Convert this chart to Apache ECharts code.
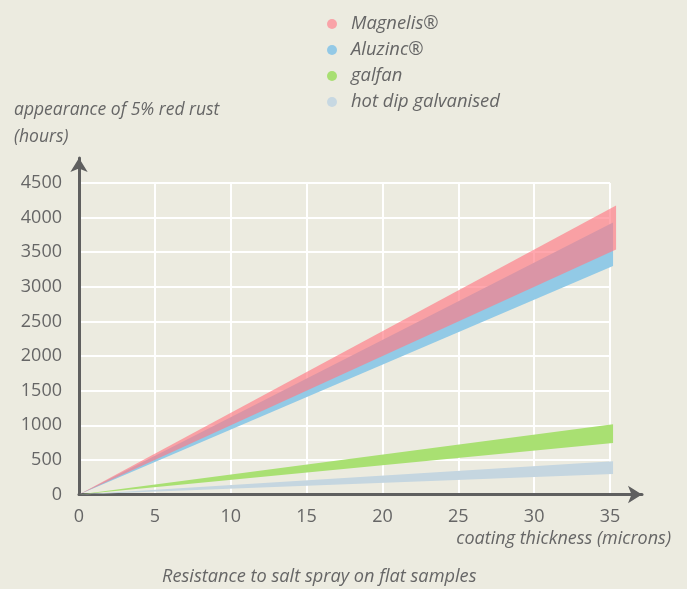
<!DOCTYPE html>
<html>
<head>
<meta charset="utf-8">
<script src="https://cdn.jsdelivr.net/npm/echarts@6/dist/echarts.min.js"></script>
<style>
  html, body { margin: 0; padding: 0; background: #ecebe0; }
  #chart { width: 687px; height: 589px; }
</style>
</head>
<body>
<div id="chart"></div>
<script>
const xTicks = [0, 5, 10, 15, 20, 25, 30, 35];
const yTicks = [0, 500, 1000, 1500, 2000, 2500, 3000, 3500, 4000, 4500];

// each band: thickness points, lower and upper hours
const magnelisX = [0, 35.4];
const magnelisLow = [0, 3540];
const magnelisHigh = [0, 4175];

const aluzincX = [0, 35.2];
const aluzincLow = [0, 3300];
const aluzincHigh = [0, 3930];

const galfanX = [0, 35.2];
const galfanLow = [0, 745];
const galfanHigh = [0, 1015];

const hotDipX = [0, 35.2];
const hotDipLow = [0, 295];
const hotDipHigh = [0, 480];

const font = "'Open Sans', sans-serif";
const textColor = "#666";
const axisColor = "#5f5f5f";

// one row per segment: x0, low0, high0, x1, low1, high1
const bandRows = (xs, lows, highs) => {
  const rows = [];
  for (let i = 0; i < xs.length - 1; i++) {
    rows.push([xs[i], lows[i], highs[i], xs[i + 1], lows[i + 1], highs[i + 1]]);
  }
  return rows;
};

const bandSeries = (name, legendColor, fill, xs, lows, highs) => ({
  name: name,
  type: "custom",
  xAxisIndex: 0,
  yAxisIndex: 0,
  clip: false,
  renderItem: (params, api) => {
    const a = api.coord([api.value(0), api.value(1)]);
    const b = api.coord([api.value(3), api.value(4)]);
    const c = api.coord([api.value(3), api.value(5)]);
    const d = api.coord([api.value(0), api.value(2)]);
    return {
      type: "polygon",
      shape: { points: [a, b, c, d] },
      style: { fill: fill },
    };
  },
  itemStyle: { color: legendColor },
  encode: { x: [0, 3], y: [1, 2, 4, 5] },
  data: bandRows(xs, lows, highs),
});

const italic = (size) => ({
  fontFamily: font,
  fontStyle: "italic",
  fontWeight: "normal",
  fontSize: size,
  color: textColor,
});

const chart = echarts.init(document.getElementById("chart"));

chart.setOption({
  backgroundColor: "#ecebe0",
  animation: false,
  textStyle: { fontFamily: font },
  title: [
    {
      text: "Resistance to salt spray on flat samples",
      left: 162,
      top: 568,
      padding: 0,
      textStyle: italic(18.2),
    },
    {
      text: "coating thickness (microns)",
      right: 16,
      top: 530,
      padding: 0,
      textStyle: italic(18),
    },
    {
      text: "appearance of 5% red rust\n(hours)",
      left: 14,
      top: 97,
      padding: 0,
      textStyle: Object.assign(italic(17.5), { lineHeight: 27 }),
    },
  ],
  legend: {
    orient: "vertical",
    left: 327,
    top: 15,
    padding: 0,
    itemGap: 8,
    itemWidth: 10,
    itemHeight: 10,
    icon: "circle",
    data: ["Magnelis®", "Aluzinc®", "galfan", "hot dip galvanised"],
    textStyle: Object.assign(italic(18.4), { lineHeight: 18, padding: [0, 0, 0, 9] }),
  },
  grid: [
    { left: 79, top: 183, width: 531, height: 311.5 },
    { left: 79, top: 158, right: 45, bottom: 94.5 },
  ],
  xAxis: [
    {
      type: "value",
      gridIndex: 0,
      min: 0,
      max: 35,
      interval: 5,
      axisLine: { show: false },
      axisTick: { show: false },
      axisLabel: {
        margin: 13,
        fontSize: 18,
        color: textColor,
        fontFamily: font,
        formatter: (v) => (xTicks.includes(v) ? String(v) : ""),
      },
      splitLine: { show: true, lineStyle: { color: "#ffffff", width: 2 } },
    },
    {
      type: "value",
      gridIndex: 1,
      min: 0,
      max: 1,
      axisLine: {
        show: true,
        symbol: ["none", "arrow"],
        symbolSize: [13, 14],
        lineStyle: { color: axisColor, width: 3 },
      },
      axisTick: { show: false },
      axisLabel: { show: false },
      splitLine: { show: false },
    },
  ],
  yAxis: [
    {
      type: "value",
      gridIndex: 0,
      min: 0,
      max: 4500,
      interval: 500,
      axisLine: { show: false },
      axisTick: { show: false },
      axisLabel: {
        margin: 17,
        fontSize: 18,
        color: textColor,
        fontFamily: font,
        formatter: (v) => (yTicks.includes(v) ? String(v) : ""),
      },
      splitLine: { show: true, lineStyle: { color: "#ffffff", width: 2 } },
    },
    {
      type: "value",
      gridIndex: 1,
      min: 0,
      max: 1,
      axisLine: {
        show: true,
        symbol: ["none", "arrow"],
        symbolSize: [13, 14],
        lineStyle: { color: axisColor, width: 3 },
      },
      axisTick: { show: false },
      axisLabel: { show: false },
      splitLine: { show: false },
    },
  ],
  series: [
    bandSeries("hot dip galvanised", "#c7d8e2", "#c5d6e0", hotDipX, hotDipLow, hotDipHigh),
    bandSeries("galfan", "#a8df72", "#a9e072", galfanX, galfanLow, galfanHigh),
    bandSeries("Aluzinc®", "#93c9e6", "#92cae6", aluzincX, aluzincLow, aluzincHigh),
    bandSeries("Magnelis®", "#f9a3a8", "rgba(255, 122, 132, 0.66)", magnelisX, magnelisLow, magnelisHigh),
  ],
});
</script>
</body>
</html>
